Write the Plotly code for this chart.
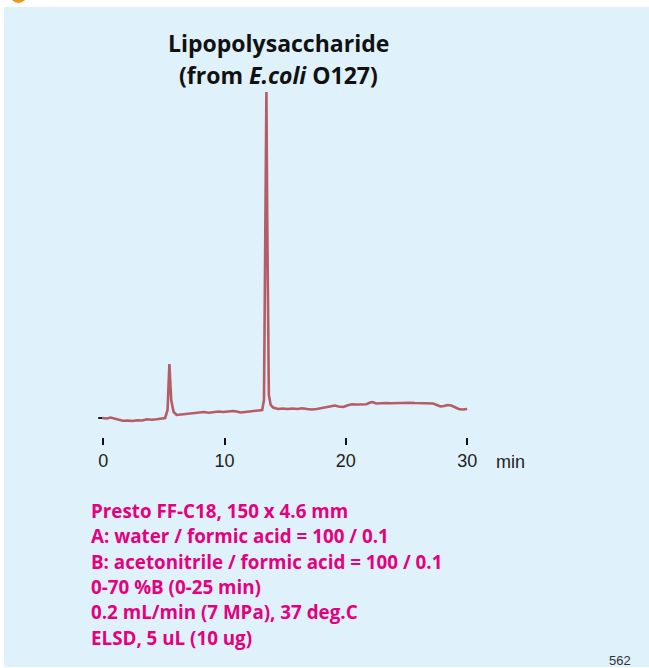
import plotly.graph_objects as go

# chromatogram (time in min, detector signal in arbitrary units)
time_min = [-0.1, 0.3, 0.6, 0.9, 1.2, 1.6, 2.0, 2.4, 2.8, 3.2, 3.6, 4.0, 4.4, 4.8, 5.1,
            5.3, 5.45, 5.6, 5.8, 6.05, 6.5, 7.0, 7.5, 7.9, 8.3, 8.7, 9.1, 9.5, 9.9, 10.3,
            10.7, 11.0, 11.3, 11.7, 12.1, 12.5, 12.9, 13.1, 13.25, 13.38, 13.45, 13.52,
            13.65, 13.8, 14.0, 14.4, 14.8, 15.2, 15.6, 16.0, 16.4, 16.8, 17.2, 17.6, 18.0,
            18.4, 18.8, 19.1, 19.4, 19.8, 20.1, 20.5, 20.9, 21.3, 21.7, 22.0, 22.2, 22.5,
            22.9, 23.3, 23.7, 24.1, 24.5, 24.9, 25.3, 25.7, 26.1, 26.5, 26.9, 27.2, 27.5,
            27.8, 28.1, 28.4, 28.7, 29.0, 29.3, 29.6, 30.0]
signal = [2, 1.5, 2.5, 1.5, 0, -0.7, -0.5, -1, -0.3, -0.5, 0.7, 0.3, 0.8, 1.5, 2,
          10, 56, 20, 8, 5, 5.5, 6, 6.5, 7.5, 8, 7.3, 7.8, 8.5, 8, 8.5,
          9, 8.5, 7.5, 8, 8.5, 9, 9, 10, 20, 200, 328, 200,
          25, 15, 12.5, 11, 11.5, 11, 11.5, 11, 11.8, 11, 10.5, 11, 12,
          13, 14, 14.5, 13.5, 13, 14.5, 15.8, 15.5, 15.5, 15.8, 17.5, 18, 16.5,
          17, 17, 16.8, 17, 17.2, 17, 17.3, 17, 17, 17.2, 17, 16.5, 15,
          13.5, 14, 15, 14.5, 12.5, 11, 10.5, 11]

# short black zero marker before the trace
marker_t = [-0.42, -0.05]
marker_s = [2, 2]

tick_vals = [0, 10, 20, 30]
title_lines = ["Lipopolysaccharide", "(from <i>E.coli</i> O127)"]
conditions = ["Presto FF-C18, 150 x 4.6 mm",
              "A: water / formic acid = 100 / 0.1",
              "B: acetonitrile / formic acid = 100 / 0.1",
              "0-70 %B (0-25 min)",
              "0.2 mL/min (7 MPa), 37 deg.C",
              "ELSD, 5 uL (10 ug)"]

FW, FH = 649, 668
L, T, W, H = 96, 85, 376, 352          # plot area in page pixels
BLUE, PINK, LINE = "#dff1fb", "#e5007d", "#b65c64"
TXT = "Open Sans"


def px(x):
    return (x - L) / W


def py(y):
    return (T + H - y) / H


fig = go.Figure()
fig.add_trace(go.Scatter(x=marker_t, y=marker_s, mode="lines",
                         line=dict(color="#222222", width=2), showlegend=False))
fig.add_trace(go.Scatter(x=time_min, y=signal, mode="lines",
                         line=dict(color=LINE, width=2.6), showlegend=False))

shapes = [
    # white strip at the top, left and bottom of the blue panel
    dict(type="rect", xref="paper", yref="paper", x0=px(-5), x1=px(FW + 5), y0=py(7), y1=py(-5),
         fillcolor="white", line=dict(width=0), layer="below"),
    dict(type="rect", xref="paper", yref="paper", x0=px(-5), x1=px(4), y0=py(FH + 5), y1=py(-5),
         fillcolor="white", line=dict(width=0), layer="below"),
    dict(type="rect", xref="paper", yref="paper", x0=px(-5), x1=px(FW + 5), y0=py(FH + 5), y1=py(667),
         fillcolor="white", line=dict(width=0), layer="below"),
    # orange bullet cut off at the top
    dict(type="circle", xref="paper", yref="paper", x0=px(10), x1=px(27), y0=py(3), y1=py(-14),
         fillcolor="#e89a1c", line=dict(width=0), layer="below"),
]

annotations = [
    # heading of the page above, only its descenders show
    dict(text="<b>Lipopolysaccharide</b>", xref="paper", yref="paper", x=px(38), y=py(2),
         xanchor="left", yanchor="bottom", showarrow=False,
         font=dict(family=TXT, size=20, color="#111111")),
    dict(text="min", xref="paper", yref="paper", x=px(494), y=py(462), xanchor="left",
         yanchor="middle", showarrow=False,
         font=dict(family="Liberation Sans, Arial", size=18, color="#222222")),
    dict(text="562", xref="paper", yref="paper", x=px(633), y=py(660), xanchor="right",
         yanchor="middle", showarrow=False,
         font=dict(family="Liberation Sans, Arial", size=13, color="#333333")),
]
for i, line in enumerate(title_lines):
    annotations.append(dict(text="<b>%s</b>" % line, xref="paper", yref="paper", x=px(278),
                            y=py(43 + 32 * i), xanchor="center", yanchor="middle", showarrow=False,
                            font=dict(family=TXT, size=23, color="#111111")))
for i, line in enumerate(conditions):
    annotations.append(dict(text="<b>%s</b>" % line, xref="paper", yref="paper", x=px(89),
                            y=py(511 + 25.3 * i), xanchor="left", yanchor="middle", showarrow=False,
                            font=dict(family=TXT, size=18.8, color=PINK)))

fig.update_layout(
    width=FW, height=FH,
    margin=dict(l=L, r=FW - L - W, t=T, b=FH - T - H),
    paper_bgcolor=BLUE, plot_bgcolor=BLUE,
    shapes=shapes, annotations=annotations,
    xaxis=dict(range=[-0.6, 30.4], tickvals=tick_vals, ticks="outside", ticklen=7, tickwidth=2,
               tickcolor="#111111", showline=False, showgrid=False, zeroline=False,
               tickfont=dict(family="Liberation Sans, Arial", size=18, color="#222222")),
    yaxis=dict(range=[-17, 335], visible=False),
)

# drop the default page margin so the figure fills the window exactly
fig.write_html("out.html", config={"displayModeBar": False},
               post_script="document.body.style.margin='0';")
